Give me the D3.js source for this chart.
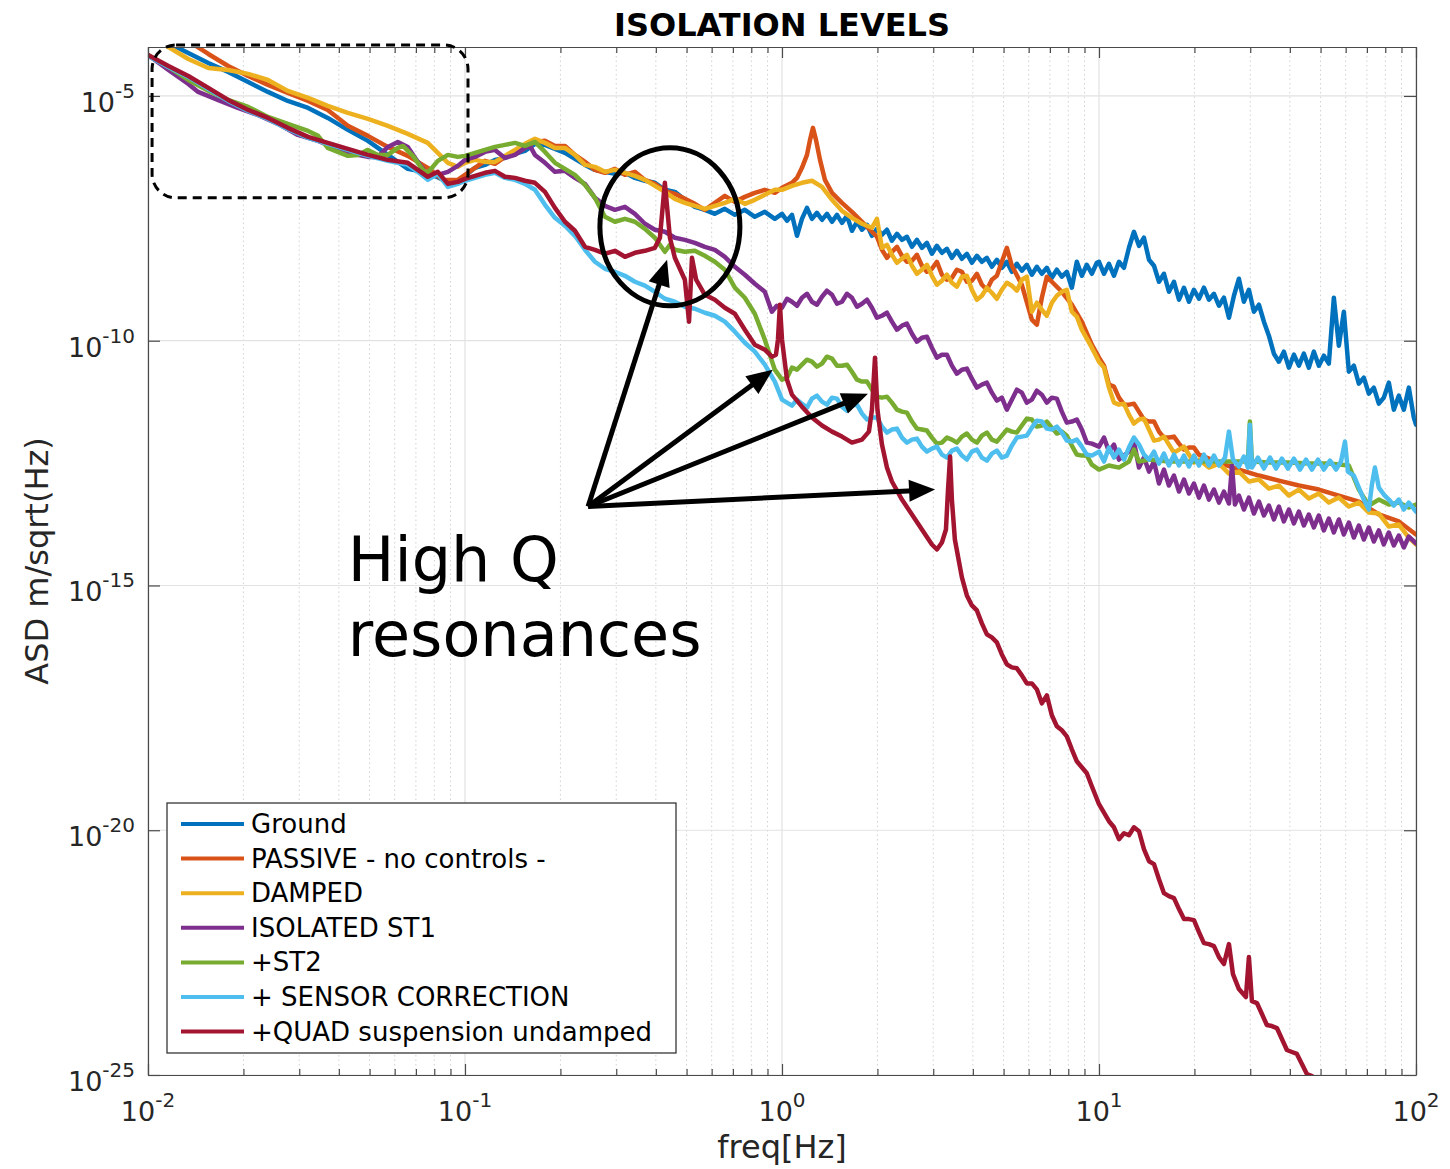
<!DOCTYPE html>
<html>
<head>
<meta charset="utf-8">
<title>Isolation levels</title>
<script src="https://cdn.jsdelivr.net/npm/d3@7/dist/d3.min.js"></script>
<style>
  html, body { margin: 0; padding: 0; background: #fff; }
  svg { display: block; font-family: "DejaVu Sans", sans-serif; }
</style>
</head>
<body>
<svg id="chart" width="1450" height="1169"></svg>
<script>
// Amplitude spectral density per configuration: [frequency (Hz), ASD (m/sqrt(Hz))]
const ground = [
  [0.01,2.0e-4],[0.0116,1.2e-4],[0.0134,7.55e-5],[0.0155,4.7e-5],[0.0179,3.1e-5],[0.0207,1.93e-5],[0.0239,1.21e-5],[0.0276,7.9e-6],[0.032,5.7e-6],[0.0369,3.56e-6],[0.0427,2.03e-6],[0.0494,1.21e-6],[0.0571,6.25e-7],[0.066,3.24e-7],[0.0763,2.69e-7],[0.0883,1.76e-7],[0.0949,1.68e-7],
  [0.1,2.33e-7],[0.1075,3.4e-7],[0.1156,3.91e-7],[0.1243,4.94e-7],[0.1337,5.43e-7],[0.1438,6.55e-7],[0.1546,7.55e-7],[0.1662,1.05e-6],[0.1788,1.0e-6],[0.1922,8.29e-7],[0.2067,6.87e-7],[0.2222,5.18e-7],[0.239,3.91e-7],[0.257,3.09e-7],[0.2763,2.82e-7],[0.2971,2.56e-7],[0.3195,2.69e-7],[0.3435,2.12e-7],[0.3694,1.85e-7],[0.3972,1.68e-7],[0.4271,1.21e-7],[0.4592,1.1e-7],[0.4938,7.55e-8],[0.531,5.43e-8],[0.571,4.72e-8],[0.614,3.91e-8],[0.6602,4.94e-8],[0.7099,3.73e-8],[0.7634,4.72e-8],[0.8209,3.4e-8],[0.8827,4.3e-8],[0.9492,3.09e-8],
  [1.0,3.91e-8],[1.037,2.82e-8],[1.075,3.73e-8],[1.115,1.39e-8],[1.156,3.09e-8],[1.199,5.18e-8],[1.243,3.09e-8],[1.289,4.1e-8],[1.337,2.95e-8],[1.386,3.91e-8],[1.438,2.69e-8],[1.491,3.73e-8],[1.546,2.56e-8],[1.603,3.56e-8],[1.662,1.76e-8],[1.724,2.69e-8],[1.788,1.85e-8],[1.854,2.33e-8],[1.922,1.39e-8],[1.993,1.93e-8],[2.067,1.46e-8],[2.143,1.85e-8],[2.222,1.1e-8],[2.305,1.53e-8],[2.39,1.15e-8],[2.478,1.33e-8],[2.57,8.29e-9],[2.665,1.15e-8],[2.763,7.91e-9],[2.865,1.0e-8],[2.971,5.97e-9],[3.081,8.68e-9],[3.195,6.25e-9],[3.313,7.55e-9],[3.435,4.94e-9],[3.562,6.87e-9],[3.694,4.72e-9],[3.83,5.97e-9],[3.972,3.91e-9],[4.119,5.43e-9],[4.271,4.1e-9],[4.429,4.94e-9],[4.592,3.24e-9],[4.762,4.5e-9],[4.938,3.09e-9],[5.121,4.1e-9],[5.31,2.56e-9],[5.506,3.73e-9],[5.71,2.69e-9],[5.921,3.56e-9],[6.14,2.23e-9],[6.367,3.24e-9],[6.602,2.33e-9],[6.846,3.09e-9],[7.099,1.93e-9],[7.362,2.82e-9],[7.634,2.03e-9],[7.916,2.56e-9],[8.209,1.21e-9],[8.512,4.1e-9],[8.827,2.12e-9],[9.153,3.56e-9],[9.492,2.33e-9],[9.843,3.91e-9],
  [10,4.1e-9],[10.37,2.33e-9],[10.75,3.73e-9],[11.15,2.12e-9],[11.56,4.1e-9],[11.99,3.09e-9],[12.43,7.91e-9],[12.89,1.68e-8],[13.37,8.68e-9],[13.86,1.27e-8],[14.38,4.5e-9],[14.91,3.4e-9],[15.46,1.6e-9],[16.03,2.33e-9],[16.62,1.0e-9],[17.24,1.6e-9],[17.88,6.87e-10],[18.54,1.21e-9],[19.22,6.25e-10],[19.93,1.1e-9],[20.67,7.2e-10],[21.43,1.21e-9],[22.22,6.87e-10],[23.05,9.1e-10],[23.9,5.18e-10],[24.78,7.55e-10],[25.7,2.95e-10],[26.65,8.29e-10],[27.63,1.85e-9],[28.65,6.25e-10],[29.71,1.1e-9],[30.81,3.91e-10],[31.95,5.43e-10],[33.13,2.45e-10],[34.35,1.27e-10],[35.62,5.43e-11],[36.94,3.73e-11],[38.3,5.97e-11],[39.72,2.82e-11],[41.19,5.18e-11],[42.71,3.09e-11],[44.29,5.43e-11],[45.92,2.82e-11],[47.62,5.97e-11],[49.38,3.09e-11],[51.21,4.94e-11],[53.1,3.4e-11],[55.06,7.55e-10],[57.1,7.91e-11],[59.21,3.91e-10],[61.4,2.33e-11],[63.67,3.09e-11],[66.02,1.33e-11],[68.46,1.76e-11],[70.99,8.29e-12],[73.62,1.1e-11],[76.34,5.18e-12],[79.16,6.87e-12],[82.09,1.39e-11],[85.12,3.91e-12],[88.27,7.55e-12],[91.53,3.91e-12],[94.92,1.1e-11],[98.43,2.69e-12],[100,1.93e-12]
];

const passive = [
  [0.01,5.2e-4],[0.0116,2.56e-4],[0.0134,1.33e-4],[0.0155,7.2e-5],[0.0179,4.1e-5],[0.0207,2.56e-5],[0.0239,1.68e-5],[0.0276,1.15e-5],[0.032,7.91e-6],[0.0369,5.18e-6],[0.0427,2.45e-6],[0.0494,1.53e-6],[0.0571,9.1e-7],[0.066,5.97e-7],[0.0763,3.4e-7],[0.0851,1.93e-7],[0.0949,1.93e-7],
  [0.1,2.45e-7],[0.1075,3.4e-7],[0.1156,4.72e-7],[0.1243,4.1e-7],[0.1337,5.69e-7],[0.1438,6.55e-7],[0.1546,8.68e-7],[0.1662,1.15e-6],[0.1788,1.21e-6],[0.1922,9.54e-7],[0.2067,9.54e-7],[0.2222,6.25e-7],[0.239,4.5e-7],[0.257,3.09e-7],[0.2763,2.69e-7],[0.2971,3.24e-7],[0.3195,2.45e-7],[0.3435,2.82e-7],[0.3694,1.93e-7],[0.3972,1.6e-7],[0.4271,1.15e-7],[0.4592,1.0e-7],[0.4938,7.91e-8],[0.531,6.25e-8],[0.571,4.72e-8],[0.614,6.55e-8],[0.6602,9.1e-8],[0.7099,6.87e-8],[0.7634,8.68e-8],[0.8209,1.05e-7],[0.8827,1.21e-7],[0.9492,1.05e-7],
  [1.0,1.33e-7],[1.075,1.68e-7],[1.115,2.12e-7],[1.156,3.4e-7],[1.199,6.25e-7],[1.226,1.27e-6],[1.252,2.23e-6],[1.28,1.27e-6],[1.318,4.94e-7],[1.366,1.93e-7],[1.438,1.05e-7],[1.546,6.55e-8],[1.662,4.3e-8],[1.788,2.69e-8],[1.922,1.68e-8],[1.993,1.33e-8],[2.067,7.2e-9],[2.143,4.94e-9],[2.222,6.55e-9],[2.305,8.29e-9],[2.39,5.43e-9],[2.478,4.1e-9],[2.57,4.3e-9],[2.665,5.69e-9],[2.763,3.4e-9],[2.865,2.56e-9],[2.971,2.95e-9],[3.081,4.1e-9],[3.195,2.23e-9],[3.313,1.76e-9],[3.435,1.93e-9],[3.562,2.82e-9],[3.694,2.56e-9],[3.83,1.6e-9],[3.972,1.68e-9],[4.119,2.33e-9],[4.271,1.39e-9],[4.429,1.1e-9],[4.592,1.76e-9],[4.762,2.12e-9],[4.938,4.1e-9],[5.121,7.91e-9],[5.31,3.4e-9],[5.71,1.39e-9],[6.14,2.69e-10],[6.367,2.12e-10],[6.602,7.55e-10],[6.846,2.03e-9],[7.099,1.6e-9],[7.634,1.0e-9],[8.209,5.43e-10],[8.827,2.45e-10],[9.492,8.29e-11],
  [10,4.5e-11],[10.37,3.09e-11],[10.75,1.27e-11],[11.15,1.15e-11],[11.56,6.87e-12],[11.99,4.94e-12],[12.43,4.94e-12],[12.89,5.18e-12],[13.37,3.56e-12],[13.86,2.45e-12],[14.38,2.23e-12],[14.91,2.23e-12],[15.46,1.39e-12],[16.03,1.05e-12],[16.62,1.05e-12],[17.24,1.1e-12],[17.88,7.91e-13],[18.54,5.97e-13],[19.22,6.55e-13],[19.93,6.55e-13],[20.67,4.72e-13],[23.9,3.24e-13],[27.63,2.33e-13],[31.95,1.76e-13],[36.94,1.39e-13],[42.71,1.1e-13],[49.38,9.1e-14],[57.1,6.87e-14],[66.02,5.18e-14],[76.34,2.82e-14],[88.27,2.03e-14],[100,1.1e-14]
];

const damped = [
  [0.01,1.76e-4],[0.0116,1.0e-4],[0.0134,5.69e-5],[0.0155,3.73e-5],[0.0179,3.4e-5],[0.0207,2.82e-5],[0.0239,2.12e-5],[0.0276,1.27e-5],[0.032,9.1e-6],[0.0369,6.25e-6],[0.0427,4.5e-6],[0.0494,3.4e-6],[0.0571,2.45e-6],[0.066,1.68e-6],[0.0763,1.1e-6],[0.0883,4.3e-7],[0.0949,3.56e-7],
  [0.1,4.3e-7],[0.1075,4.94e-7],[0.1156,4.5e-7],[0.1243,4.5e-7],[0.1337,5.97e-7],[0.1438,7.91e-7],[0.1546,1.05e-6],[0.1662,1.33e-6],[0.1788,1.1e-6],[0.1922,8.68e-7],[0.2067,8.68e-7],[0.2222,6.25e-7],[0.239,3.91e-7],[0.257,3.56e-7],[0.2763,2.82e-7],[0.2971,3.09e-7],[0.3195,2.69e-7],[0.3435,2.33e-7],[0.3694,1.93e-7],[0.3972,1.46e-7],[0.4271,1.1e-7],[0.4592,7.91e-8],[0.4938,6.55e-8],[0.531,5.69e-8],[0.571,4.94e-8],[0.614,5.69e-8],[0.6602,6.55e-8],[0.7099,7.91e-8],[0.7634,6.25e-8],[0.8209,7.55e-8],[0.8827,9.54e-8],[0.9492,1.21e-7],
  [1.0,1.21e-7],[1.075,1.46e-7],[1.156,1.68e-7],[1.243,1.85e-7],[1.337,1.39e-7],[1.438,7.55e-8],[1.546,4.5e-8],[1.662,3.24e-8],[1.788,2.45e-8],[1.922,2.03e-8],[1.993,3.09e-8],[2.067,7.91e-9],[2.143,9.1e-9],[2.222,5.69e-9],[2.305,3.91e-9],[2.39,4.72e-9],[2.478,5.69e-9],[2.57,3.4e-9],[2.665,2.33e-9],[2.763,2.82e-9],[2.865,3.56e-9],[2.971,2.12e-9],[3.081,1.39e-9],[3.195,1.68e-9],[3.313,2.23e-9],[3.435,1.53e-9],[3.562,1.27e-9],[3.694,2.03e-9],[3.83,2.12e-9],[3.972,1.1e-9],[4.119,6.87e-10],[4.271,8.29e-10],[4.429,1.21e-9],[4.592,9.54e-10],[4.762,7.2e-10],[4.938,1.1e-9],[5.121,1.53e-9],[5.31,1.33e-9],[5.506,1.05e-9],[5.71,1.76e-9],[5.921,2.03e-9],[6.14,3.91e-10],[6.367,5.97e-10],[6.602,4.3e-10],[6.846,3.24e-10],[7.099,5.97e-10],[7.362,8.29e-10],[7.634,1.0e-9],[7.916,1.1e-9],[8.209,3.91e-10],[8.512,3.09e-10],[8.827,1.68e-10],[9.492,7.2e-11],
  [10,3.73e-11],[10.37,2.82e-11],[10.75,1.1e-11],[11.15,5.43e-12],[11.56,4.94e-12],[11.99,5.18e-12],[12.43,3.09e-12],[12.89,2.03e-12],[13.37,2.45e-12],[13.86,2.56e-12],[14.38,1.53e-12],[14.91,9.1e-13],[15.46,9.54e-13],[16.03,1.1e-12],[16.62,7.55e-13],[17.24,5.18e-13],[17.88,5.97e-13],[18.54,6.87e-13],[19.22,4.72e-13],[19.93,3.24e-13],[20.67,3.73e-13],[22.22,2.56e-13],[23.9,3.09e-13],[25.7,1.93e-13],[27.63,2.12e-13],[29.71,1.33e-13],[31.95,1.46e-13],[34.35,9.54e-14],[36.94,1.1e-13],[39.72,6.87e-14],[42.71,9.1e-14],[45.92,5.97e-14],[49.38,7.55e-14],[53.1,4.94e-14],[57.1,6.25e-14],[61.4,4.1e-14],[66.02,4.94e-14],[71.0,3.09e-14],[76.34,2.95e-14],[82.09,1.6e-14],[88.27,1.76e-14],[94.92,9.54e-15],[100,6.87e-15]
];

const isolatedSt1 = [
  [0.01,6.87e-5],[0.0116,3.4e-5],[0.0134,1.76e-5],[0.0144,1.21e-5],[0.0166,8.29e-6],[0.0192,5.69e-6],[0.0222,4.1e-6],[0.0257,2.69e-6],[0.0297,1.6e-6],[0.0344,1.21e-6],[0.0397,8.29e-7],[0.0459,6.25e-7],[0.0494,5.69e-7],[0.0531,5.69e-7],[0.0571,9.1e-7],[0.0614,1.15e-6],[0.066,9.1e-7],[0.071,4.5e-7],[0.0763,2.33e-7],[0.0821,2.45e-7],[0.0883,2.82e-7],[0.0949,3.73e-7],
  [0.1,4.94e-7],[0.1075,5.69e-7],[0.1156,7.2e-7],[0.1243,7.91e-7],[0.1337,5.43e-7],[0.1438,6.25e-7],[0.1546,8.68e-7],[0.1603,9.54e-7],[0.1662,6.25e-7],[0.1788,4.3e-7],[0.1922,2.82e-7],[0.2067,2.95e-7],[0.2222,2.12e-7],[0.239,1.6e-7],[0.257,8.29e-8],[0.2763,5.69e-8],[0.2971,4.72e-8],[0.3195,5.43e-8],[0.3435,3.91e-8],[0.3694,2.45e-8],[0.3972,1.85e-8],[0.4271,1.68e-8],[0.4592,1.27e-8],[0.4938,1.15e-8],[0.531,1.0e-8],[0.571,8.29e-9],[0.614,7.2e-9],[0.6602,5.18e-9],[0.7099,3.24e-9],[0.7634,2.23e-9],[0.8209,1.46e-9],[0.8827,1.0e-9],[0.929,3.91e-10],[0.963,5.18e-10],
  [1.0,4.72e-10],[1.037,7.2e-10],[1.075,6.25e-10],[1.115,5.18e-10],[1.156,7.55e-10],[1.199,9.1e-10],[1.243,6.25e-10],[1.289,5.43e-10],[1.337,7.91e-10],[1.386,1.05e-9],[1.438,8.68e-10],[1.491,5.69e-10],[1.546,6.25e-10],[1.603,9.1e-10],[1.662,7.55e-10],[1.724,4.94e-10],[1.788,5.69e-10],[1.854,6.87e-10],[1.922,4.72e-10],[1.993,2.95e-10],[2.067,3.24e-10],[2.143,3.73e-10],[2.222,2.45e-10],[2.305,1.68e-10],[2.39,2.03e-10],[2.478,2.23e-10],[2.57,1.39e-10],[2.665,9.54e-11],[2.763,1.15e-10],[2.865,1.21e-10],[2.971,7.2e-11],[3.081,4.5e-11],[3.195,5.18e-11],[3.313,5.18e-11],[3.435,3.09e-11],[3.562,2.12e-11],[3.694,2.56e-11],[3.83,2.69e-11],[3.972,1.68e-11],[4.119,1.1e-11],[4.271,1.27e-11],[4.429,1.39e-11],[4.592,8.68e-12],[4.762,5.97e-12],[4.938,6.87e-12],[5.121,3.91e-12],[5.31,6.25e-12],[5.506,1.0e-11],[5.71,8.68e-12],[5.921,5.43e-12],[6.14,6.25e-12],[6.367,9.54e-12],[6.602,7.91e-12],[6.846,5.43e-12],[7.099,6.87e-12],[7.362,6.55e-12],[7.634,3.56e-12],[7.916,2.12e-12],[8.209,2.23e-12],[8.512,2.45e-12],[8.827,1.53e-12],[9.153,8.29e-13],[9.492,7.91e-13],
  [10,6.87e-13],[10.37,1.05e-12],[10.75,5.43e-13],[11.15,7.55e-13],[11.56,3.73e-13],[12.43,5.43e-13],[12.89,8.68e-13],[13.37,2.56e-13],[13.86,4.1e-13],[14.38,2.12e-13],[14.91,3.4e-13],[15.46,1.21e-13],[16.03,2.33e-13],[16.62,1.1e-13],[17.24,1.76e-13],[17.88,8.29e-14],[18.54,1.46e-13],[19.22,7.55e-14],[19.93,1.21e-13],[20.67,6.25e-14],[21.43,1.1e-13],[22.22,5.69e-14],[23.05,9.1e-14],[23.9,4.94e-14],[24.78,8.29e-14],[25.7,4.72e-14],[26.28,2.82e-13],[26.84,4.5e-14],[27.63,6.87e-14],[28.65,3.56e-14],[29.71,6.25e-14],[30.81,2.95e-14],[31.95,5.18e-14],[33.13,2.69e-14],[34.35,4.3e-14],[35.62,2.23e-14],[36.94,4.1e-14],[38.3,2.03e-14],[39.72,3.56e-14],[41.19,1.85e-14],[42.71,3.24e-14],[44.29,1.68e-14],[45.92,2.82e-14],[47.62,1.53e-14],[49.38,2.69e-14],[51.21,1.33e-14],[53.1,2.33e-14],[55.06,1.21e-14],[57.1,2.23e-14],[59.21,1.1e-14],[61.4,1.93e-14],[63.67,9.54e-15],[66.02,1.68e-14],[68.46,8.68e-15],[70.99,1.53e-14],[73.62,7.91e-15],[76.34,1.33e-14],[79.16,6.87e-15],[82.09,1.21e-14],[85.12,6.55e-15],[88.27,1.05e-14],[91.53,5.97e-15],[94.92,1.0e-14],[100,7.2e-15]
];

const st2 = [
  [0.01,6.87e-5],[0.0116,3.91e-5],[0.0134,2.12e-5],[0.0155,1.27e-5],[0.0179,8.29e-6],[0.0207,5.97e-6],[0.0239,3.73e-6],[0.0276,2.69e-6],[0.032,1.93e-6],[0.0344,1.53e-6],[0.0369,8.68e-7],[0.0397,7.2e-7],[0.0427,5.97e-7],[0.0459,6.25e-7],[0.0494,7.91e-7],[0.0531,6.25e-7],[0.0571,6.25e-7],[0.0614,8.68e-7],[0.0637,9.54e-7],[0.0685,5.97e-7],[0.0736,3.09e-7],[0.0763,2.69e-7],[0.0821,4.72e-7],[0.0883,6.25e-7],[0.0949,5.69e-7],
  [0.1,5.97e-7],[0.1075,6.87e-7],[0.1156,7.91e-7],[0.1243,9.1e-7],[0.1337,1.0e-6],[0.1438,1.1e-6],[0.1546,9.54e-7],[0.1662,1.15e-6],[0.1788,7.2e-7],[0.1922,4.3e-7],[0.2067,3.24e-7],[0.2222,2.45e-7],[0.239,1.53e-7],[0.257,8.29e-8],[0.2763,3.4e-8],[0.2971,2.69e-8],[0.3195,3.09e-8],[0.3435,2.69e-8],[0.3694,1.93e-8],[0.3972,1.27e-8],[0.4271,6.55e-9],[0.443,9.1e-9],[0.4592,7.2e-9],[0.4938,6.55e-9],[0.531,6.87e-9],[0.571,5.43e-9],[0.614,4.1e-9],[0.6602,2.82e-9],[0.7099,1.21e-9],[0.7634,7.55e-10],[0.8209,3.56e-10],[0.8827,1.05e-10],[0.9492,2.56e-11],
  [1.0,1.6e-11],[1.037,1.76e-11],[1.075,2.82e-11],[1.115,2.56e-11],[1.156,3.24e-11],[1.199,4.1e-11],[1.243,3.73e-11],[1.289,2.95e-11],[1.337,3.4e-11],[1.386,4.72e-11],[1.438,4.3e-11],[1.491,3.09e-11],[1.546,3.09e-11],[1.603,3.24e-11],[1.662,2.33e-11],[1.724,1.6e-11],[1.788,1.46e-11],[1.854,1.46e-11],[1.922,1.0e-11],[1.993,7.2e-12],[2.067,6.87e-12],[2.143,7.2e-12],[2.222,5.43e-12],[2.305,3.91e-12],[2.39,3.56e-12],[2.478,3.4e-12],[2.57,2.23e-12],[2.665,1.6e-12],[2.763,1.53e-12],[2.865,1.46e-12],[2.971,1.05e-12],[3.081,7.91e-13],[3.195,8.29e-13],[3.313,1.05e-12],[3.435,9.54e-13],[3.562,8.29e-13],[3.694,1.1e-12],[3.83,1.27e-12],[3.972,9.54e-13],[4.119,8.29e-13],[4.271,1.15e-12],[4.429,1.33e-12],[4.592,9.54e-13],[4.762,8.68e-13],[4.938,1.15e-12],[5.121,1.53e-12],[5.31,1.39e-12],[5.506,1.33e-12],[5.71,1.85e-12],[5.921,2.56e-12],[6.14,2.45e-12],[6.367,1.76e-12],[6.602,1.85e-12],[6.846,2.23e-12],[7.099,1.68e-12],[7.362,1.27e-12],[7.634,1.39e-12],[7.916,1.15e-12],[8.209,7.2e-13],[8.512,4.72e-13],[8.827,4.5e-13],[9.153,4.5e-13],[9.492,2.95e-13],
  [10,2.33e-13],[10.75,2.82e-13],[11.56,2.56e-13],[12.43,3.4e-13],[12.89,5.97e-13],[13.37,3.4e-13],[14.38,3.73e-13],[16.62,3.4e-13],[19.22,3.4e-13],[22.22,3.4e-13],[25.7,3.4e-13],[29.5,3.4e-13],[29.92,2.23e-12],[30.37,3.4e-13],[34.35,3.24e-13],[39.72,3.24e-13],[45.92,3.09e-13],[53.1,3.09e-13],[61.4,2.82e-13],[66.02,9.1e-14],[71.0,4.3e-14],[76.34,5.69e-14],[82.09,4.5e-14],[88.27,4.94e-14],[94.92,3.91e-14],[100,4.5e-14]
];

const sensorCorrection = [
  [0.01,6.55e-5],[0.0116,3.91e-5],[0.0134,2.45e-5],[0.0155,1.39e-5],[0.0179,7.91e-6],[0.0207,4.94e-6],[0.0239,3.4e-6],[0.0276,2.12e-6],[0.032,1.39e-6],[0.0369,1.05e-6],[0.0427,7.91e-7],[0.0494,5.97e-7],[0.0571,4.72e-7],[0.066,3.91e-7],[0.071,2.82e-7],[0.0763,1.93e-7],[0.0821,2.56e-7],[0.0883,1.39e-7],[0.0949,1.6e-7],
  [0.1,1.85e-7],[0.1075,2.12e-7],[0.1156,2.45e-7],[0.1243,2.69e-7],[0.1337,2.12e-7],[0.1438,1.93e-7],[0.1546,1.6e-7],[0.1662,1.21e-7],[0.1788,5.97e-8],[0.1922,3.24e-8],[0.2067,2.23e-8],[0.2222,1.39e-8],[0.239,7.2e-9],[0.257,4.1e-9],[0.2763,2.95e-9],[0.2971,2.56e-9],[0.3195,2.12e-9],[0.3435,1.6e-9],[0.3694,1.33e-9],[0.3972,1.0e-9],[0.4271,7.2e-10],[0.4592,6.25e-10],[0.4938,4.94e-10],[0.531,4.5e-10],[0.571,3.73e-10],[0.614,3.24e-10],[0.6602,2.45e-10],[0.7099,1.53e-10],[0.7634,9.1e-11],[0.8209,5.97e-11],[0.8827,3.24e-11],[0.9492,1.46e-11],
  [1.0,6.25e-12],[1.075,4.72e-12],[1.115,6.25e-12],[1.156,5.18e-12],[1.199,4.3e-12],[1.243,6.55e-12],[1.289,7.55e-12],[1.337,5.69e-12],[1.386,4.94e-12],[1.438,6.87e-12],[1.491,6.55e-12],[1.546,4.5e-12],[1.603,3.73e-12],[1.662,4.72e-12],[1.724,4.94e-12],[1.788,3.24e-12],[1.854,2.45e-12],[1.922,2.69e-12],[1.993,2.69e-12],[2.067,1.76e-12],[2.143,1.33e-12],[2.222,1.53e-12],[2.305,1.6e-12],[2.39,1.05e-12],[2.478,8.29e-13],[2.57,9.54e-13],[2.665,1.0e-12],[2.763,6.87e-13],[2.865,5.43e-13],[2.971,6.25e-13],[3.081,6.87e-13],[3.195,4.72e-13],[3.313,4.1e-13],[3.435,5.69e-13],[3.562,6.25e-13],[3.694,4.5e-13],[3.83,3.73e-13],[3.972,5.43e-13],[4.119,5.97e-13],[4.271,4.1e-13],[4.429,3.56e-13],[4.592,4.94e-13],[4.762,5.69e-13],[4.938,4.1e-13],[5.121,4.5e-13],[5.31,7.2e-13],[5.506,1.05e-12],[5.71,1.1e-12],[5.921,1.15e-12],[6.14,1.68e-12],[6.367,2.33e-12],[6.602,2.23e-12],[6.846,1.6e-12],[7.099,1.53e-12],[7.362,1.76e-12],[7.634,1.33e-12],[7.916,9.1e-13],[8.209,8.68e-13],[8.512,9.54e-13],[8.827,6.87e-13],[9.153,4.72e-13],[9.492,4.5e-13],
  [10,5.43e-13],[10.37,3.4e-13],[10.75,6.55e-13],[11.15,4.1e-13],[11.56,5.97e-13],[11.99,3.73e-13],[12.43,6.55e-13],[12.89,1.05e-12],[13.37,7.55e-13],[13.86,4.72e-13],[14.38,3.73e-13],[14.91,5.43e-13],[15.46,3.09e-13],[16.03,4.94e-13],[16.62,2.82e-13],[17.24,4.72e-13],[17.88,2.82e-13],[18.54,4.5e-13],[19.22,2.69e-13],[19.93,4.5e-13],[20.67,2.82e-13],[21.43,4.72e-13],[22.22,2.82e-13],[23.05,4.5e-13],[23.9,2.82e-13],[24.97,4.1e-13],[25.7,1.39e-12],[26.46,3.73e-13],[27.63,2.69e-13],[28.65,4.3e-13],[29.5,2.56e-13],[29.92,1.93e-12],[30.37,2.56e-13],[31.72,4.1e-13],[33.13,2.45e-13],[34.63,4.1e-13],[36.17,2.45e-13],[37.76,3.91e-13],[39.45,2.45e-13],[41.19,3.91e-13],[43.06,2.33e-13],[44.98,3.73e-13],[46.96,2.33e-13],[49.08,3.73e-13],[51.21,2.33e-13],[53.55,3.56e-13],[55.93,2.33e-13],[58.0,3.4e-13],[59.7,8.68e-13],[61.0,2.12e-13],[63.67,1.76e-13],[66.02,1.0e-13],[68.46,5.69e-14],[71.0,3.56e-14],[72.6,1.15e-13],[74.2,2.56e-13],[76.34,1.0e-13],[79.16,7.2e-14],[82.09,5.69e-14],[85.12,4.3e-14],[88.27,5.69e-14],[91.53,3.56e-14],[94.92,4.94e-14],[100,3.24e-14]
];

const quadUndamped = [
  [0.01,6.87e-5],[0.0116,4.1e-5],[0.0134,2.56e-5],[0.0155,1.46e-5],[0.0179,8.29e-6],[0.0207,5.18e-6],[0.0239,3.56e-6],[0.0276,2.23e-6],[0.032,1.46e-6],[0.0369,1.1e-6],[0.0427,8.29e-7],[0.0494,6.25e-7],[0.0571,4.94e-7],[0.066,4.3e-7],[0.071,3.09e-7],[0.0763,2.23e-7],[0.0821,2.82e-7],[0.0883,1.6e-7],[0.0949,1.76e-7],
  [0.1,2.03e-7],[0.1075,2.33e-7],[0.1156,2.69e-7],[0.1243,2.95e-7],[0.1337,2.23e-7],[0.1438,2.12e-7],[0.1546,1.85e-7],[0.1662,1.68e-7],[0.1788,1.1e-7],[0.1922,5.18e-8],[0.2067,2.69e-8],[0.2222,1.76e-8],[0.239,8.29e-9],[0.257,7.2e-9],[0.2763,5.97e-9],[0.2971,6.87e-9],[0.3195,5.18e-9],[0.3435,6.25e-9],[0.3694,6.87e-9],[0.3972,7.91e-9],[0.412,1.27e-8],[0.427,1.68e-7],[0.443,1.27e-8],[0.4592,4.94e-9],[0.4938,1.76e-9],[0.509,2.45e-10],[0.52,4.94e-9],[0.536,1.76e-9],[0.571,8.68e-10],[0.614,6.87e-10],[0.6602,4.72e-10],[0.7099,3.56e-10],[0.7634,1.68e-10],[0.8209,8.29e-11],[0.8827,6.55e-11],[0.929,4.72e-11],
  [0.957,5.18e-11],[0.971,1.05e-10],[0.985,5.43e-10],[1.0,1.05e-10],[1.037,1.6e-11],[1.075,7.91e-12],[1.156,4.5e-12],[1.243,2.69e-12],[1.337,1.85e-12],[1.438,1.39e-12],[1.546,1.1e-12],[1.662,8.29e-13],[1.788,9.54e-13],[1.88,1.39e-12],[1.922,3.91e-12],[1.965,4.5e-11],[2.0,3.91e-12],[2.067,7.55e-13],[2.143,2.56e-13],[2.222,1.33e-13],[2.39,5.69e-14],[2.57,2.82e-14],[2.763,1.39e-14],[2.971,6.87e-15],[3.081,5.43e-15],[3.195,7.55e-15],[3.29,1.39e-14],[3.34,9.1e-14],[3.39,4.3e-13],[3.435,5.69e-14],[3.51,8.68e-15],[3.694,1.46e-15],[3.83,6.25e-16],[3.972,3.91e-16],[4.119,3.09e-16],[4.271,1.68e-16],[4.429,1.0e-16],[4.592,8.68e-17],[4.762,6.87e-17],[4.938,3.91e-17],[5.121,2.45e-17],[5.31,2.12e-17],[5.506,2.03e-17],[5.71,1.46e-17],[5.921,1.0e-17],[6.14,1.0e-17],[6.367,7.55e-18],[6.602,3.91e-18],[6.846,5.69e-18],[7.099,2.23e-18],[7.362,1.33e-18],[7.634,1.1e-18],[7.916,8.29e-19],[8.209,4.5e-19],[8.512,2.56e-19],[8.827,1.93e-19],[9.153,1.46e-19],[9.492,7.91e-20],
  [10,3.4e-20],[10.75,1.53e-20],[11.15,1.15e-20],[11.56,6.55e-21],[11.99,8.68e-21],[12.43,7.91e-21],[12.89,1.15e-20],[13.37,9.54e-21],[13.86,4.1e-21],[14.38,2.33e-21],[14.91,2.03e-21],[15.46,1.0e-21],[16.03,5.18e-22],[16.62,4.5e-22],[17.24,4.1e-22],[17.88,2.45e-22],[18.54,1.53e-22],[19.22,1.53e-22],[19.93,1.46e-22],[20.67,8.29e-23],[21.43,4.94e-23],[22.22,4.72e-23],[23.05,4.3e-23],[23.9,2.56e-23],[24.78,1.85e-23],[25.7,4.72e-23],[26.46,1.15e-23],[27.63,5.69e-24],[29.07,3.91e-24],[29.71,2.56e-23],[30.37,3.24e-24],[31.49,2.95e-24],[32.66,1.76e-24],[33.85,1.05e-24],[35.1,1.0e-24],[36.41,9.1e-25],[37.76,5.43e-25],[39.15,3.24e-25],[40.6,2.95e-25],[42.1,2.69e-25],[43.66,1.68e-25],[45.27,1.05e-25],[46.96,9.54e-26],[50.5,5.18e-26]
];

const seriesLabels = ["Ground", "PASSIVE - no controls -", "DAMPED", "ISOLATED ST1", "+ST2", "+ SENSOR CORRECTION", "+QUAD suspension undamped"];
const seriesColors = ["#0072BD", "#D95319", "#EDB120", "#7E2F8E", "#77AC30", "#4DBEEE", "#A2142F"];
const seriesData = [ground, passive, damped, isolatedSt1, st2, sensorCorrection, quadUndamped];

const xDecades = [0.01, 0.1, 1, 10, 100];
const xDecadeExponents = ["-2", "-1", "0", "1", "2"];
const yDecades = [1e-25, 1e-20, 1e-15, 1e-10, 1e-5];
const yDecadeExponents = ["-25", "-20", "-15", "-10", "-5"];

// Annotation anchors in data space: [frequency, ASD]
const resonanceArrowOrigin = [0.2445, 4.1e-14];
const resonanceArrowTips = [[0.434, 4.5e-9], [0.935, 2.56e-11], [1.867, 8.29e-12], [3.04, 9.1e-14]];
const resonanceCircleCenter = [0.443, 2.12e-8];
const lowFreqBox = [[0.0103, 1.1e-4], [0.1022, 8.29e-8]];
const calloutAnchor = [0.0427, 1.21e-15];

// ---- layout ----
const plot = { left: 148, right: 1416, top: 47, bottom: 1075 };
const axisColor = "#4a4a4a";
const svg = d3.select("#chart");

const x = d3.scaleLog().domain([0.01, 100]).range([plot.left, plot.right]);
const y = d3.scaleLog().domain([1e-25, 1e-4]).range([plot.bottom, plot.top]);

const isDecade = t => xDecades.some(d => Math.abs(t / d - 1) < 1e-9);
const xMinor = x.ticks().filter(t => !isDecade(t));

// grid
const grid = svg.append("g");
grid.selectAll("line.minor").data(xMinor).join("line")
  .attr("class", "minor")
  .attr("x1", d => x(d)).attr("x2", d => x(d))
  .attr("y1", plot.top).attr("y2", plot.bottom)
  .attr("stroke", "#d2d2d2").attr("stroke-width", 1).attr("stroke-dasharray", "1.5,3");
grid.selectAll("line.vmajor").data(xDecades).join("line")
  .attr("class", "vmajor")
  .attr("x1", d => x(d)).attr("x2", d => x(d))
  .attr("y1", plot.top).attr("y2", plot.bottom)
  .attr("stroke", "#e2e2e2").attr("stroke-width", 1.2);
grid.selectAll("line.hmajor").data(yDecades).join("line")
  .attr("class", "hmajor")
  .attr("x1", plot.left).attr("x2", plot.right)
  .attr("y1", d => y(d)).attr("y2", d => y(d))
  .attr("stroke", "#e2e2e2").attr("stroke-width", 1.2);

// spectra
svg.append("defs").append("clipPath").attr("id", "plot-clip")
  .append("rect").attr("x", plot.left).attr("y", plot.top)
  .attr("width", plot.right - plot.left).attr("height", plot.bottom - plot.top);

const line = d3.line().x(d => x(d[0])).y(d => y(d[1]));
svg.append("g").attr("clip-path", "url(#plot-clip)")
  .selectAll("path").data(seriesData).join("path")
  .attr("d", line)
  .attr("fill", "none")
  .attr("stroke", (d, i) => seriesColors[i])
  .attr("stroke-width", 4.5)
  .attr("stroke-linejoin", "round")
  .attr("stroke-linecap", "round");

// axes (box with inward ticks)
function styleAxis(g) {
  g.selectAll("path, line").attr("stroke", axisColor).attr("stroke-width", 1.2);
  g.selectAll("text").remove();
}
svg.append("g").attr("transform", `translate(0,${plot.bottom})`)
  .call(d3.axisBottom(x).tickValues(xDecades).tickSize(-11).tickSizeOuter(0).tickFormat(""))
  .call(styleAxis);
svg.append("g").attr("transform", `translate(0,${plot.bottom})`)
  .call(d3.axisBottom(x).tickValues(xMinor).tickSize(-6).tickSizeOuter(0).tickFormat(""))
  .call(styleAxis).call(g => g.select(".domain").remove());
svg.append("g").attr("transform", `translate(0,${plot.top})`)
  .call(d3.axisTop(x).tickValues(xDecades).tickSize(-11).tickSizeOuter(0).tickFormat(""))
  .call(styleAxis);
svg.append("g").attr("transform", `translate(0,${plot.top})`)
  .call(d3.axisTop(x).tickValues(xMinor).tickSize(-6).tickSizeOuter(0).tickFormat(""))
  .call(styleAxis).call(g => g.select(".domain").remove());
svg.append("g").attr("transform", `translate(${plot.left},0)`)
  .call(d3.axisLeft(y).tickValues(yDecades).tickSize(-12).tickSizeOuter(0).tickFormat(""))
  .call(styleAxis);
svg.append("g").attr("transform", `translate(${plot.right},0)`)
  .call(d3.axisRight(y).tickValues(yDecades).tickSize(-12).tickSizeOuter(0).tickFormat(""))
  .call(styleAxis);

// tick labels as powers of ten
const tickFont = 27, expFont = 20;
svg.append("g").selectAll("text").data(xDecades).join("text")
  .attr("x", d => x(d)).attr("y", plot.bottom + 46)
  .attr("text-anchor", "middle").attr("font-size", tickFont).attr("fill", "#262626")
  .each(function (d, i) {
    const t = d3.select(this);
    t.append("tspan").text("10");
    t.append("tspan").attr("dy", -14).attr("font-size", expFont).text(xDecadeExponents[i]);
  });
svg.append("g").selectAll("text").data(yDecades).join("text")
  .attr("x", plot.left - 13).attr("y", d => y(d) + 16)
  .attr("text-anchor", "end").attr("font-size", tickFont).attr("fill", "#262626")
  .each(function (d, i) {
    const t = d3.select(this);
    t.append("tspan").text("10");
    t.append("tspan").attr("dy", -14).attr("font-size", expFont).text(yDecadeExponents[i]);
  });

// titles
svg.append("text").attr("x", (plot.left + plot.right) / 2).attr("y", 36)
  .attr("text-anchor", "middle").attr("font-size", 32).attr("font-weight", "bold")
  .attr("fill", "#000").text("ISOLATION LEVELS");
svg.append("text").attr("x", (plot.left + plot.right) / 2).attr("y", 1158)
  .attr("text-anchor", "middle").attr("font-size", 32).attr("fill", "#262626")
  .text("freq[Hz]");
svg.append("text").attr("transform", `translate(48,${(plot.top + plot.bottom) / 2}) rotate(-90)`)
  .attr("text-anchor", "middle").attr("font-size", 32).attr("fill", "#262626")
  .text("ASD m/sqrt(Hz)");

// legend
const legend = svg.append("g").attr("transform", "translate(167,803)");
legend.append("rect").attr("width", 509).attr("height", 250)
  .attr("fill", "#fff").attr("stroke", "#262626").attr("stroke-width", 1.2);
const rows = legend.selectAll("g").data(seriesLabels).join("g")
  .attr("transform", (d, i) => `translate(0,${21 + i * 34.6})`);
rows.append("line").attr("x1", 14).attr("x2", 77).attr("y1", 0).attr("y2", 0)
  .attr("stroke", (d, i) => seriesColors[i]).attr("stroke-width", 4);
rows.append("text").attr("x", 84).attr("y", 9).attr("font-size", 26).attr("fill", "#000")
  .text(d => d);

// annotations
const ann = svg.append("g");
ann.append("rect")
  .attr("x", x(lowFreqBox[0][0])).attr("y", y(lowFreqBox[0][1]))
  .attr("width", x(lowFreqBox[1][0]) - x(lowFreqBox[0][0]))
  .attr("height", y(lowFreqBox[1][1]) - y(lowFreqBox[0][1]))
  .attr("rx", 24).attr("ry", 24)
  .attr("fill", "none").attr("stroke", "#000").attr("stroke-width", 3)
  .attr("stroke-dasharray", "9,6");
ann.append("ellipse")
  .attr("cx", x(resonanceCircleCenter[0])).attr("cy", y(resonanceCircleCenter[1]))
  .attr("rx", 70).attr("ry", 79)
  .attr("fill", "none").attr("stroke", "#000").attr("stroke-width", 5);

const ox = x(resonanceArrowOrigin[0]), oy = y(resonanceArrowOrigin[1]);
resonanceArrowTips.forEach(([f, v]) => {
  const tx = x(f), ty = y(v);
  const len = Math.hypot(tx - ox, ty - oy);
  const ux = (tx - ox) / len, uy = (ty - oy) / len;
  const headLen = 26, headHalf = 11;
  const bx = tx - ux * headLen, by = ty - uy * headLen;
  ann.append("line")
    .attr("x1", ox).attr("y1", oy).attr("x2", bx + ux * 4).attr("y2", by + uy * 4)
    .attr("stroke", "#000").attr("stroke-width", 5);
  ann.append("polygon")
    .attr("points", [[tx, ty], [bx - uy * headHalf, by + ux * headHalf], [bx + uy * headHalf, by - ux * headHalf]].map(p => p.join(",")).join(" "))
    .attr("fill", "#000");
});

const callout = ann.append("text")
  .attr("x", x(calloutAnchor[0])).attr("y", y(calloutAnchor[1]))
  .attr("font-size", 62).attr("fill", "#000");
callout.append("tspan").attr("x", x(calloutAnchor[0])).text("High Q");
callout.append("tspan").attr("x", x(calloutAnchor[0])).attr("dy", 75).text("resonances");
</script>
</body>
</html>
